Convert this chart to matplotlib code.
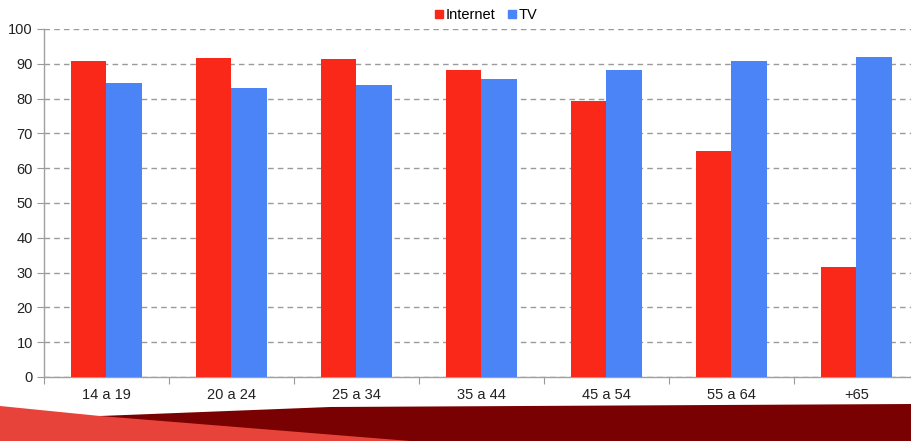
import matplotlib
matplotlib.use("Agg")
import matplotlib.pyplot as plt
from matplotlib.patches import Polygon
from matplotlib.lines import Line2D
import numpy as np

categories = ["14 a 19", "20 a 24", "25 a 34", "35 a 44", "45 a 54", "55 a 64", "+65"]
internet = [90.8, 91.6, 91.5, 88.2, 79.4, 65.0, 31.7]
tv = [84.6, 83.1, 84.0, 85.5, 88.2, 90.9, 91.9]
yticks = [0, 10, 20, 30, 40, 50, 60, 70, 80, 90, 100]

RED = "#fa2818"
BLUE = "#4a84f6"

W, H = 912, 441
fig = plt.figure(figsize=(W / 100, H / 100), dpi=100)
fig.patch.set_facecolor("white")

# bottom decorative band
def fp(x, y):
    return (x / W, 1 - y / H)

dark = Polygon([fp(100, 416), fp(330, 407), fp(912, 404), fp(912, 441), fp(0, 441)],
               closed=True, transform=fig.transFigure, facecolor="#7a0101", edgecolor="none")
light = Polygon([fp(0, 406), fp(100, 416), fp(410, 441), fp(0, 441)],
                closed=True, transform=fig.transFigure, facecolor="#e8433a", edgecolor="none")
fig.patches.extend([dark, light])

ax = fig.add_axes([44 / W, (H - 377) / H, 875 / W, 348 / H])
x = np.arange(len(categories)) + 0.5
bw = 0.284
ax.bar(x - bw / 2, internet, width=bw, color=RED, zorder=3)
ax.bar(x + bw / 2, tv, width=bw, color=BLUE, zorder=3)

ax.set_xlim(0, len(categories))
ax.set_ylim(0, 100)
ax.set_yticks(yticks)
ax.set_yticklabels([str(v) for v in yticks], fontsize=10.5, color="#222222",
                   family=["Liberation Sans", "DejaVu Sans"])
ax.yaxis.grid(True, linestyle=(0, (4, 3)), color="#9a9a9a", linewidth=1.0, zorder=0)
ax.set_axisbelow(True)

ax.set_xticks(np.arange(len(categories) + 1))
ax.set_xticklabels([])
ax.set_xticks(x, minor=True)
ax.set_xticklabels(categories, minor=True, fontsize=10.5, color="#222222",
                   family=["Liberation Sans Narrow", "Liberation Sans", "DejaVu Sans"])
ax.tick_params(axis="x", which="major", length=5, color="#999999", direction="out")
ax.tick_params(axis="x", which="minor", length=0, pad=8)
ax.tick_params(axis="y", length=5, color="#999999", pad=3)

for s in ["top", "right"]:
    ax.spines[s].set_visible(False)
for s in ["left", "bottom"]:
    ax.spines[s].set_color("#a0a0a0")
    ax.spines[s].set_linewidth(1.0)

handles = [Line2D([], [], marker="s", linestyle="none", markersize=6, color=RED),
           Line2D([], [], marker="s", linestyle="none", markersize=6, color=BLUE)]
fig.legend(handles, ["Internet", "TV"], loc="center", bbox_to_anchor=(486 / W, 1 - 15 / H),
           ncol=2, frameon=False, fontsize=10.5, handlelength=0.6, handletextpad=0.2,
           columnspacing=0.8, prop={"family": ["Liberation Sans", "DejaVu Sans"], "size": 10.5})

fig.savefig("out.png", dpi=100)
